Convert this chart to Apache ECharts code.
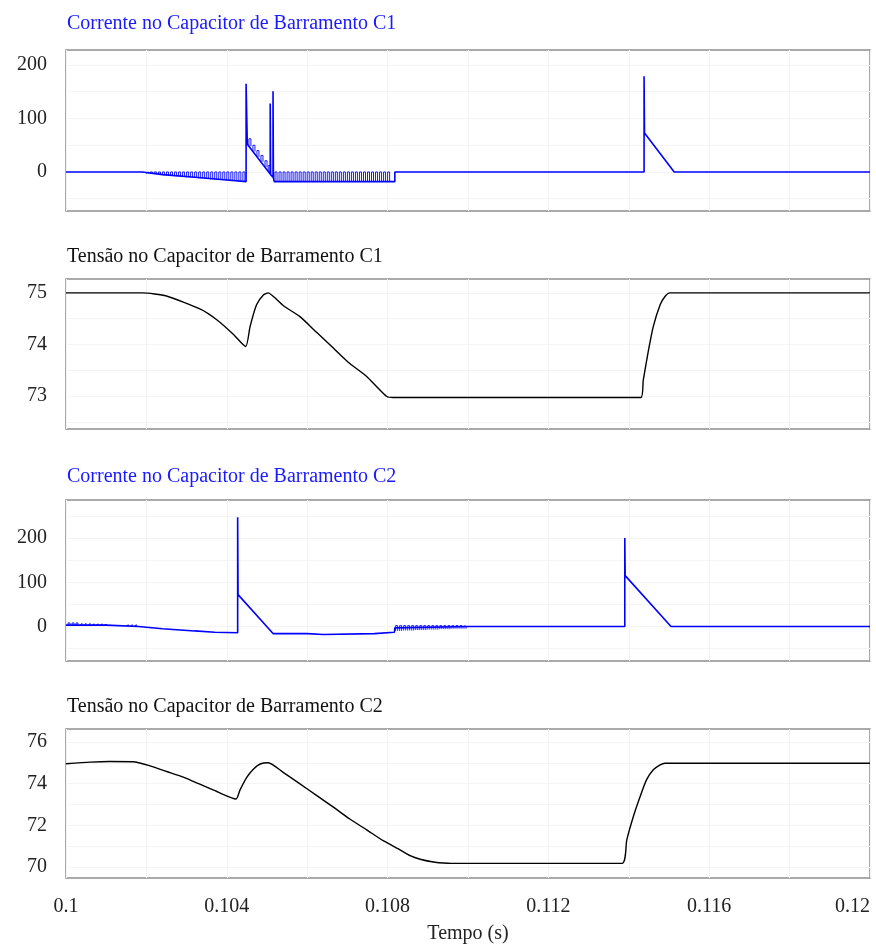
<!DOCTYPE html>
<html>
<head>
<meta charset="utf-8">
<script src="https://cdn.jsdelivr.net/npm/echarts@6/dist/echarts.min.js"></script>
<style>
html,body{margin:0;padding:0;background:#fff}
#chart{width:876px;height:949px}
</style>
</head>
<body>
<div id="chart"></div>
<script>
// titulos dos paineis
var titles = [
	"Corrente no Capacitor de Barramento C1",
	"Tensão no Capacitor de Barramento C1",
	"Corrente no Capacitor de Barramento C2",
	"Tensão no Capacitor de Barramento C2"
];

// eixo do tempo
var xLabels = [0.1, 0.104, 0.108, 0.112, 0.116, 0.12];
var xGrid = [0.1, 0.102, 0.104, 0.106, 0.108, 0.11, 0.112, 0.114, 0.116, 0.118, 0.12];

// eixos y (rotulos / linhas de grade)
var yLabels1 = [0, 100, 200];
var yGrid1 = [-50, 0, 50, 100, 150, 200];
var yLabels2 = [73, 74, 75];
var yGrid2 = [72.5, 73, 73.5, 74, 74.5, 75];
var yLabels3 = [0, 100, 200];
var yGrid3 = [-50, 0, 50, 100, 150, 200, 250];
var yLabels4 = [70, 72, 74, 76];
var yGrid4 = [70, 71, 72, 73, 74, 75, 76];

// corrente C1 [t, A]
var iC1 = [
	[0.1, 0], [0.1019, 0], [0.1024, -5], [0.1032, -10], [0.1040, -15], [0.10448, -18],
	[0.10448, 165], [0.10451, 52], [0.10508, -4], [0.10508, 128], [0.10509, -5],
	[0.10515, -10], [0.10515, 151], [0.10516, -12], [0.10518, -18], [0.10818, -18],
	[0.10818, 0], [0.11438, 0], [0.11438, 179], [0.11439, 73], [0.11513, 0], [0.12, 0]
];
// ondulacao de chaveamento C1 [t, baixo, alto]
var iC1Teeth = [
	[0.1020, -3, 0], [0.1021, -4, 0], [0.1022, -4, 0], [0.1023, -5, 0], [0.1024, -6, 0],
	[0.1025, -6, 0], [0.1026, -7, 0], [0.1027, -8, 0], [0.1028, -8, 0], [0.1029, -9, 0],
	[0.1030, -10, 0], [0.1031, -10, 0], [0.1032, -11, 0], [0.1033, -12, 0], [0.1034, -12, 0],
	[0.1035, -13, 0], [0.1036, -14, 0], [0.1037, -14, 0], [0.1038, -15, 0], [0.1039, -15, 0],
	[0.1040, -16, 0], [0.1041, -16, 0], [0.1042, -17, 0], [0.1043, -17, 0], [0.1044, -18, 0],
	[0.10455, 48, 62], [0.10465, 38, 50], [0.10475, 28, 40], [0.10485, 19, 31], [0.10495, 9, 21], [0.10503, 1, 12],
	[0.1052, -18, 0], [0.1053, -18, 0], [0.1054, -18, 0], [0.1055, -18, 0], [0.1056, -18, 0],
	[0.1057, -18, 0], [0.1058, -18, 0], [0.1059, -18, 0], [0.1060, -18, 0], [0.1061, -18, 0],
	[0.1062, -18, 0], [0.1063, -18, 0], [0.1064, -18, 0], [0.1065, -18, 0], [0.1066, -18, 0],
	[0.1067, -18, 0], [0.1068, -18, 0], [0.1069, -18, 0], [0.1070, -18, 0], [0.1071, -18, 0],
	[0.1072, -18, 0], [0.1073, -18, 0], [0.1074, -18, 0], [0.1075, -18, 0], [0.1076, -18, 0],
	[0.1077, -18, 0], [0.1078, -18, 0], [0.1079, -18, 0], [0.1080, -18, 0]
];

// tensao C1 [t, V]
var vC1 = [
	[0.1, 75], [0.1019, 75], [0.1025, 74.94], [0.10333, 74.69], [0.10375, 74.48], [0.10416, 74.2],
	[0.10447, 73.96], [0.10458, 74.35], [0.10474, 74.77], [0.10491, 74.96], [0.10503, 75.0],
	[0.10516, 74.93], [0.10541, 74.75], [0.10582, 74.54], [0.10624, 74.23], [0.10665, 73.93],
	[0.10706, 73.63], [0.10748, 73.38], [0.10773, 73.18], [0.10798, 72.99], [0.10814, 72.97],
	[0.1143, 72.97], [0.11436, 73.31], [0.11449, 73.89], [0.11461, 74.35], [0.11478, 74.77],
	[0.1149, 74.93], [0.11502, 75.0], [0.12, 75.0]
];

// corrente C2 [t, A]
var iC2 = [
	[0.1, 3], [0.101, 3], [0.1018, 0], [0.1024, -5], [0.1032, -10], [0.1037, -13], [0.10427, -14],
	[0.10427, 247], [0.10428, 72], [0.10515, -16], [0.106, -16], [0.10603, -18], [0.1064, -18],
	[0.10643, -16], [0.10767, -16], [0.10768, -13], [0.10817, -13], [0.10818, -3], [0.11, 0],
	[0.1139, 0], [0.1139, 200], [0.11391, 115], [0.11505, 0], [0.12, 0]
];
var iC2Teeth = [
	[0.10005, 3, 8], [0.10015, 3, 8], [0.10025, 3, 8], [0.10035, 3, 7], [0.10045, 3, 7],
	[0.10055, 3, 7], [0.10065, 3, 6], [0.10075, 3, 6], [0.10085, 3, 6], [0.10095, 3, 5],
	[0.10150, 1, 4], [0.10160, 1, 4], [0.10170, 1, 4],
	[0.1082, -10, 2], [0.1083, -10, 2], [0.1084, -9, 2], [0.1085, -9, 2], [0.1086, -9, 2],
	[0.1087, -8, 2], [0.1088, -8, 2], [0.1089, -8, 2], [0.1090, -7, 2], [0.1091, -7, 2],
	[0.1092, -7, 2], [0.1093, -6, 2], [0.1094, -6, 2], [0.1095, -6, 2], [0.1096, -5, 2],
	[0.1097, -5, 2], [0.1098, -5, 2], [0.1099, -5, 1]
];

// tensao C2 [t, V]
var vC2 = [
	[0.1, 74.95], [0.1006, 75.03], [0.10109, 75.06], [0.10167, 75.05], [0.10209, 74.85],
	[0.1025, 74.58], [0.10292, 74.31], [0.10333, 73.97], [0.10375, 73.62], [0.10423, 73.26],
	[0.10433, 73.7], [0.1045, 74.31], [0.10466, 74.69], [0.10483, 74.94], [0.10503, 75.0],
	[0.10541, 74.53], [0.10582, 73.99], [0.10624, 73.42], [0.10665, 72.87], [0.10706, 72.3],
	[0.10748, 71.78], [0.10789, 71.26], [0.10831, 70.82], [0.10856, 70.54], [0.10881, 70.37],
	[0.10914, 70.24], [0.10959, 70.17], [0.11383, 70.17], [0.11395, 71.3], [0.11411, 72.4],
	[0.11428, 73.37], [0.11444, 74.18], [0.11461, 74.66], [0.11478, 74.9], [0.1149, 74.98],
	[0.12, 74.98]
];

var PULSE_W = 0.00005;

(function(){

	var FONT = "Liberation Serif";
	var dom = document.getElementById("chart");
	var myChart = echarts.init(dom, null, { renderer: "canvas" });

	var gridTops = [50, 279, 500, 729];
	var gridHeights = [161, 150, 161, 149];
	var titleTops = [9, 242, 462, 692];
	var titleColors = ["#1a1aff", "#111", "#1a1aff", "#111"];
	var yRanges = [[-73, 228], [72.36, 75.27], [-78, 286], [69.47, 76.62]];
	var yLabs = [yLabels1, yLabels2, yLabels3, yLabels4];
	var yGrids = [yGrid1, yGrid2, yGrid3, yGrid4];

	// transforma ondulacao em pulsos
	var toPulses = function(teeth){
		var out = [];
		for (var i = 0; i < teeth.length; i++) {
			var t = teeth[i];
			out.push([t[0], t[1]], [t[0], t[2]], [t[0] + PULSE_W, t[2]], [t[0] + PULSE_W, t[1]], [t[0] + PULSE_W, null]);
		}
		return out;
	};

	var grids = [], xAxes = [], yAxes = [], titleOpts = [];
	for (var i = 0; i < 4; i++) {
		grids.push({
			left: 66, width: 804, top: gridTops[i], height: gridHeights[i],
			outerBoundsMode: "none", containLabel: false,
			show: true, borderColor: "#8e8e8e", borderWidth: 1.5, backgroundColor: "#fff"
		});
		titleOpts.push({
			text: titles[i], left: 62, top: titleTops[i],
			textStyle: { fontFamily: FONT, fontSize: 20, fontWeight: "normal", color: titleColors[i] }
		});
		xAxes.push({
			type: "value", gridIndex: i, min: 0.1, max: 0.12,
			axisLine: { show: false },
			axisTick: { show: false, customValues: xGrid },
			splitLine: { show: true, lineStyle: { color: "#f4f4f4", width: 1 } },
			axisLabel: {
				show: i === 3, customValues: xLabels, margin: 19,
				alignMaxLabel: "right",
				fontFamily: FONT, fontSize: 20, color: "#222",
				formatter: function(v){ return String(+v.toFixed(4)); }
			},
			name: i === 3 ? "Tempo (s)" : "",
			nameLocation: "middle", nameGap: 46,
			nameTextStyle: { fontFamily: FONT, fontSize: 20, color: "#222" }
		});
		yAxes.push({
			type: "value", gridIndex: i, min: yRanges[i][0], max: yRanges[i][1],
			axisLine: { show: false },
			axisTick: { show: false, customValues: yGrids[i] },
			splitLine: { show: true, lineStyle: { color: "#f4f4f4", width: 1 } },
			axisLabel: {
				customValues: yLabs[i], margin: 19,
				fontFamily: FONT, fontSize: 20, color: "#222"
			}
		});
	}

	var lineSeries = function(idx, data, color, width, opacity, smooth){
		return {
			type: "line", xAxisIndex: idx, yAxisIndex: idx, data: data,
			showSymbol: false, symbol: "none", connectNulls: false, animation: false,
			smooth: smooth || false,
			lineStyle: { color: color, width: width, opacity: opacity === undefined ? 1 : opacity },
			z: 3
		};
	};

	var option = {
		backgroundColor: "#fff",
		animation: false,
		title: titleOpts,
		grid: grids,
		xAxis: xAxes,
		yAxis: yAxes,
		series: [
			lineSeries(0, toPulses(iC1Teeth), "#1a1aff", 1, 1),
			lineSeries(0, iC1, "#0000ff", 1.6),
			lineSeries(1, vC1, "#000", 1.4, 1, 0.2),
			lineSeries(2, toPulses(iC2Teeth), "#1a1aff", 1, 1),
			lineSeries(2, iC2, "#0000ff", 1.6),
			lineSeries(3, vC2, "#000", 1.4, 1, 0.2)
		]
	};

	if (option && typeof option === "object") myChart.setOption(option, true);

	window.addEventListener("resize", function(e){ myChart.resize(); });
})();
</script>
</body>
</html>
